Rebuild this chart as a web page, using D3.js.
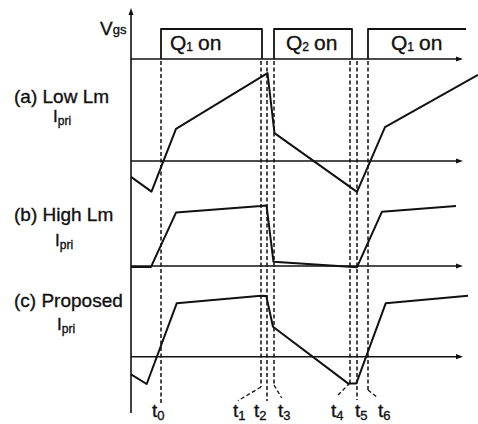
<!DOCTYPE html>
<html><head><meta charset="utf-8">
<script src="https://cdn.jsdelivr.net/npm/d3@7"></script>
<style>
body{margin:0;background:#fff}
svg{display:block}
text{font-family:"Liberation Sans",Arial,Helvetica,sans-serif;fill:#111;stroke:#111;stroke-width:0.35px}
</style>
</head><body><svg id="c" width="478" height="424"></svg>
<script>
// ---- data (time in arbitrary units, current in arbitrary units) ----
const markerNames = ["0","1","2","3","4","5","6"];
const markerTimes = [30,130,136,143,219,226,237];
const gateStarts = [30,143,237];
const gateEnds = [131,221,335];
const gateOpenEnd = [false,false,true];
const gateSwitch = ["1","2","1"];
const panelNames = ["(a) Low Lm","(b) High Lm","(c) Proposed"];
const lowLmT  = [0,20.5,45,136.5,143.5,226,254,347];
const lowLmI  = [-0.53,-1.02,1.07,2.93,0.93,-1.03,1.13,2.87];
const highLmT = [0,20,45,130,135.5,142.5,226,251,325];
const highLmI = [-0.03,-0.03,1.78,2.0,2.02,0.14,-0.04,1.81,2.0];
const propT   = [0,15.7,45.7,130,135.3,142,217,225.3,254.7,337];
const propI   = [-0.59,-0.91,1.78,2.03,2.02,1.0,-0.89,-0.89,1.78,2.03];

// ---- layout ----
const svg = d3.select("#c");
const ink = "#111";
const x = d3.scaleLinear().domain([0,347]).range([131,478]);
const axisEndT = 332;
const gateY = d3.scaleLinear().domain([0,1]).range([59,29]);
const panelZero = [161,266,356.7];
const panelY = panelZero.map(z => d3.scaleLinear().domain([0,1]).range([z, z-30]));
const series = [[lowLmT,lowLmI],[highLmT,highLmI],[propT,propI]];

function arrowRight(xe, y){
  svg.append("path").attr("d", `M${xe},${y} L${xe-7},${y-2.6} L${xe-7},${y+2.6} Z`).attr("fill", ink);
}

// vertical axis
svg.append("line").attr("x1", x(0)).attr("x2", x(0)).attr("y1", 413).attr("y2", 12)
  .attr("stroke", ink).attr("stroke-width", 1.6);
svg.append("path").attr("d", `M${x(0)},8 L${x(0)-2.5},15 L${x(0)+2.5},15 Z`).attr("fill", ink);

// horizontal axes (gate + 3 panels)
[gateY(0), ...panelZero].forEach(yv => {
  svg.append("line").attr("x1", x(0)).attr("x2", x(axisEndT)-5).attr("y1", yv).attr("y2", yv)
    .attr("stroke", ink).attr("stroke-width", 1.4);
  arrowRight(x(axisEndT), yv);
});

// dashed time markers
const markerEndY = [403,387,401,385,383,400,390];
const leaderEnd = [null,[238,400.7],null,[281.7,398],[338,395],null,[378,398]];
const labelX = [152,233,254,278,331,355,378];
markerTimes.forEach((t,i) => {
  const mx = x(t);
  svg.append("line").attr("x1", mx).attr("x2", mx).attr("y1", 61).attr("y2", markerEndY[i])
    .attr("stroke", ink).attr("stroke-width", 1.5).attr("stroke-dasharray", "4,2.5");
  if (leaderEnd[i]) {
    svg.append("line").attr("x1", mx).attr("y1", markerEndY[i]).attr("x2", leaderEnd[i][0]).attr("y2", leaderEnd[i][1])
      .attr("stroke", ink).attr("stroke-width", 1.3).attr("stroke-dasharray", "4,2.5");
  }
  const tx = svg.append("text").attr("x", labelX[i]).attr("y", 417).attr("font-size", 19);
  tx.append("tspan").text("t");
  tx.append("tspan").attr("font-size", 13).attr("dy", 3).text(markerNames[i]);
});

// gate pulses
gateStarts.forEach((s,i) => {
  const e = gateEnds[i];
  let d = `M${x(s)},${gateY(0)} L${x(s)},${gateY(1)} L${x(e)},${gateY(1)}`;
  if (!gateOpenEnd[i]) d += ` L${x(e)},${gateY(0)}`;
  svg.append("path").attr("d", d).attr("fill","none").attr("stroke", ink).attr("stroke-width", 1.8)
    .attr("stroke-linejoin","round");
});
const gateLabelX = [170,286,391];
gateStarts.forEach((s,i) => {
  const tx = svg.append("text").attr("x", gateLabelX[i]).attr("y", 50).attr("font-size", 21);
  tx.append("tspan").text("Q");
  tx.append("tspan").attr("font-size", 12).attr("dy", 1).text(gateSwitch[i]);
  tx.append("tspan").attr("dy", -1).attr("dx", 5).text("on");
});

// Vgs label
const vg = svg.append("text").attr("x", 100).attr("y", 35).attr("font-size", 19);
vg.append("tspan").text("V");
vg.append("tspan").attr("font-size", 13).attr("dy", -1).text("gs");

// panel labels
const panelLabelY = [103,221,307];
const iPriX = [53,55,57];
const iPriY = [122,246,330];
panelNames.forEach((n,i) => {
  svg.append("text").attr("x", 14).attr("y", panelLabelY[i]).attr("font-size", 19).text(n);
  const t = svg.append("text").attr("x", iPriX[i]).attr("y", iPriY[i]).attr("font-size", 17);
  t.append("tspan").text("I");
  t.append("tspan").attr("font-size", 12).attr("dy", 3).text("pri");
});

// current waveforms
series.forEach(([ts, is], p) => {
  const line = d3.line().x(d => x(d[0])).y(d => panelY[p](d[1]));
  svg.append("path").datum(ts.map((t,k) => [t, is[k]])).attr("d", line)
    .attr("fill","none").attr("stroke", ink).attr("stroke-width", 2).attr("stroke-linejoin","round");
});
</script>
</body></html>
